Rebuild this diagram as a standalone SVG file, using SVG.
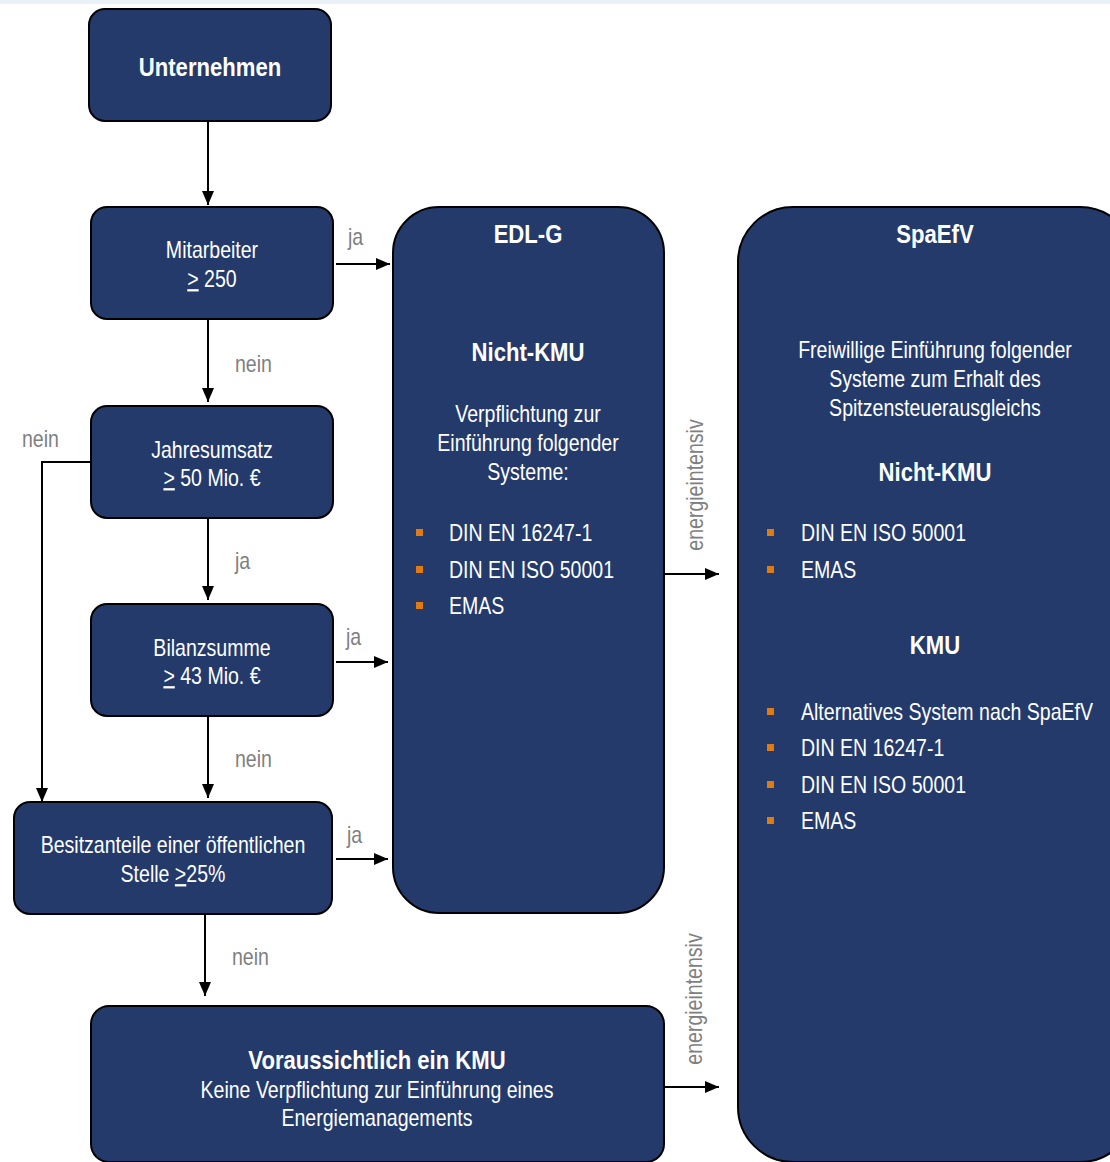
<svg xmlns="http://www.w3.org/2000/svg" width="1110" height="1162" viewBox="0 0 1110 1162">
<defs>
<marker id="ah" markerWidth="14" markerHeight="12" refX="14" refY="6" orient="auto" markerUnits="userSpaceOnUse">
<path d="M0,0 L14,6 L0,12 Z" fill="#000"/>
</marker>
<style>
.box{fill:#233a6b;stroke:#000;stroke-width:2}
.t{font-family:'Liberation Sans',Arial,sans-serif;font-size:23px;fill:#fff;text-anchor:middle}
.b{font-weight:bold;font-size:26px}
.l{text-anchor:start}
.lab{font-family:'Liberation Sans',Arial,sans-serif;font-size:23px;fill:#7f7f7f}
.c{stroke:#000;stroke-width:2;fill:none}
.bu{fill:#e07b12}
</style>
</defs>
<rect x="0" y="0" width="1110" height="1162" fill="#fff"/>
<rect x="0" y="0" width="1110" height="4" fill="#eaf1f9"/>

<g id="n-unternehmen">
<rect class="box" x="89" y="9" width="242" height="112" rx="16"/>
<text class="t b" x="210" y="76" transform="matrix(.85 0 0 1 31.5 0)">Unternehmen</text>
</g>
<g id="n-mitarbeiter">
<rect class="box" x="91" y="207" width="242" height="112" rx="16"/>
<text class="t" x="212" y="258" transform="matrix(.85 0 0 1 31.8 0)">Mitarbeiter</text>
<text class="t" x="212" y="287" transform="matrix(.85 0 0 1 31.8 0)"><tspan text-decoration="underline">&gt;</tspan> 250</text>
</g>
<g id="n-jahresumsatz">
<rect class="box" x="91" y="406" width="242" height="112" rx="16"/>
<text class="t" x="212" y="458" transform="matrix(.85 0 0 1 31.8 0)">Jahresumsatz</text>
<text class="t" x="212" y="486" transform="matrix(.85 0 0 1 31.8 0)"><tspan text-decoration="underline">&gt;</tspan> 50 Mio. €</text>
</g>
<g id="n-bilanzsumme">
<rect class="box" x="91" y="604" width="242" height="112" rx="16"/>
<text class="t" x="212" y="656" transform="matrix(.85 0 0 1 31.8 0)">Bilanzsumme</text>
<text class="t" x="212" y="684" transform="matrix(.85 0 0 1 31.8 0)"><tspan text-decoration="underline">&gt;</tspan> 43 Mio. €</text>
</g>
<g id="n-besitz">
<rect class="box" x="14" y="802" width="318" height="112" rx="16"/>
<text class="t" x="173" y="853" transform="matrix(.85 0 0 1 25.95 0)">Besitzanteile einer öffentlichen</text>
<text class="t" x="173" y="882" transform="matrix(.85 0 0 1 25.95 0)">Stelle <tspan text-decoration="underline">&gt;</tspan>25%</text>
</g>
<g id="n-kmu">
<rect class="box" x="91" y="1006" width="573" height="156" rx="18"/>
<text class="t b" x="377" y="1069" transform="matrix(.85 0 0 1 56.55 0)">Voraussichtlich ein KMU</text>
<text class="t" x="377" y="1098" transform="matrix(.85 0 0 1 56.55 0)">Keine Verpflichtung zur Einführung eines</text>
<text class="t" x="377" y="1126" transform="matrix(.85 0 0 1 56.55 0)">Energiemanagements</text>
</g>
<g id="n-edlg">
<rect class="box" x="393" y="207" width="271" height="706" rx="46"/>
<text class="t b" x="528" y="243" transform="matrix(.85 0 0 1 79.2 0)">EDL-G</text>
<text class="t b" x="528" y="361" transform="matrix(.85 0 0 1 79.2 0)">Nicht-KMU</text>
<text class="t" x="528" y="422" transform="matrix(.85 0 0 1 79.2 0)">Verpflichtung zur</text>
<text class="t" x="528" y="451" transform="matrix(.85 0 0 1 79.2 0)">Einführung folgender</text>
<text class="t" x="528" y="480" transform="matrix(.85 0 0 1 79.2 0)">Systeme:</text>
<rect class="bu" x="416" y="529" width="7" height="7"/>
<rect class="bu" x="416" y="566" width="7" height="7"/>
<rect class="bu" x="416" y="602" width="7" height="7"/>
<text class="t l" x="449" y="541" transform="matrix(.85 0 0 1 67.35 0)">DIN EN 16247-1</text>
<text class="t l" x="449" y="578" transform="matrix(.85 0 0 1 67.35 0)">DIN EN ISO 50001</text>
<text class="t l" x="449" y="614" transform="matrix(.85 0 0 1 67.35 0)">EMAS</text>
</g>
<g id="n-spaefv">
<rect class="box" x="738" y="207" width="397" height="955" rx="55"/>
<text class="t b" x="935" y="243" transform="matrix(.85 0 0 1 140.25 0)">SpaEfV</text>
<text class="t" x="935" y="358" transform="matrix(.85 0 0 1 140.25 0)">Freiwillige Einführung folgender</text>
<text class="t" x="935" y="387" transform="matrix(.85 0 0 1 140.25 0)">Systeme zum Erhalt des</text>
<text class="t" x="935" y="416" transform="matrix(.85 0 0 1 140.25 0)">Spitzensteuerausgleichs</text>
<text class="t b" x="935" y="481" transform="matrix(.85 0 0 1 140.25 0)">Nicht-KMU</text>
<rect class="bu" x="767" y="529" width="7" height="7"/>
<rect class="bu" x="767" y="566" width="7" height="7"/>
<text class="t l" x="801" y="541" transform="matrix(.85 0 0 1 120.15 0)">DIN EN ISO 50001</text>
<text class="t l" x="801" y="578" transform="matrix(.85 0 0 1 120.15 0)">EMAS</text>
<text class="t b" x="935" y="654" transform="matrix(.85 0 0 1 140.25 0)">KMU</text>
<rect class="bu" x="767" y="708" width="7" height="7"/>
<rect class="bu" x="767" y="744" width="7" height="7"/>
<rect class="bu" x="767" y="781" width="7" height="7"/>
<rect class="bu" x="767" y="817" width="7" height="7"/>
<text class="t l" x="801" y="720" transform="matrix(.85 0 0 1 120.15 0)">Alternatives System nach SpaEfV</text>
<text class="t l" x="801" y="756" transform="matrix(.85 0 0 1 120.15 0)">DIN EN 16247-1</text>
<text class="t l" x="801" y="793" transform="matrix(.85 0 0 1 120.15 0)">DIN EN ISO 50001</text>
<text class="t l" x="801" y="829" transform="matrix(.85 0 0 1 120.15 0)">EMAS</text>
</g>

<g id="connectors">
<line class="c" x1="208" y1="121" x2="208" y2="205" marker-end="url(#ah)"/>
<line class="c" x1="336" y1="264" x2="390" y2="264" marker-end="url(#ah)"/>
<line class="c" x1="208" y1="319" x2="208" y2="402" marker-end="url(#ah)"/>
<polyline class="c" points="91,462 42,462 42,802" marker-end="url(#ah)"/>
<line class="c" x1="208" y1="518" x2="208" y2="600" marker-end="url(#ah)"/>
<line class="c" x1="336" y1="662" x2="388" y2="662" marker-end="url(#ah)"/>
<line class="c" x1="208" y1="716" x2="208" y2="798" marker-end="url(#ah)"/>
<line class="c" x1="336" y1="859" x2="388" y2="859" marker-end="url(#ah)"/>
<line class="c" x1="205" y1="914" x2="205" y2="996" marker-end="url(#ah)"/>
<line class="c" x1="664" y1="574" x2="719" y2="574" marker-end="url(#ah)"/>
<line class="c" x1="664" y1="1087" x2="719" y2="1087" marker-end="url(#ah)"/>
<text class="lab" x="348" y="245" transform="matrix(.85 0 0 1 52.2 0)">ja</text>
<text class="lab" x="235" y="372" transform="matrix(.85 0 0 1 35.25 0)">nein</text>
<text class="lab" x="22" y="447" transform="matrix(.85 0 0 1 3.3 0)">nein</text>
<text class="lab" x="235" y="569" transform="matrix(.85 0 0 1 35.25 0)">ja</text>
<text class="lab" x="346" y="645" transform="matrix(.85 0 0 1 51.9 0)">ja</text>
<text class="lab" x="235" y="767" transform="matrix(.85 0 0 1 35.25 0)">nein</text>
<text class="lab" x="347" y="843" transform="matrix(.85 0 0 1 52.05 0)">ja</text>
<text class="lab" x="232" y="965" transform="matrix(.85 0 0 1 34.8 0)">nein</text>
<text class="lab" text-anchor="middle" transform="translate(703,485) rotate(-90) scale(.85,1)">energieintensiv</text>
<text class="lab" text-anchor="middle" transform="translate(702,999) rotate(-90) scale(.85,1)">energieintensiv</text>
</g>
</svg>
